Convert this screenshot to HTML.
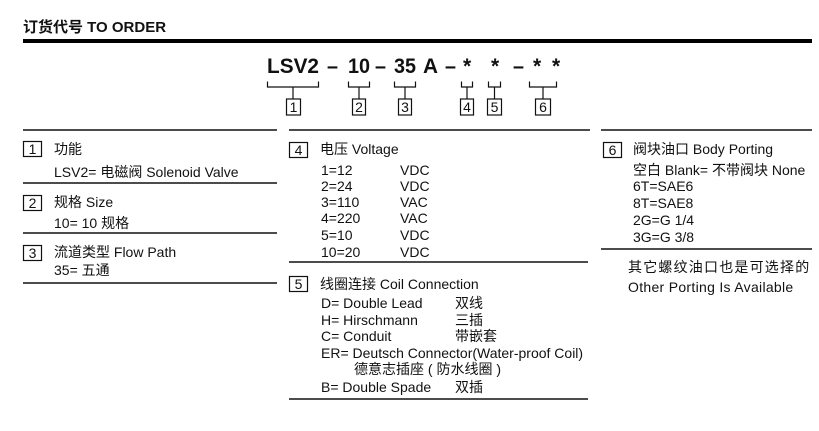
<!DOCTYPE html>
<html><head><meta charset="utf-8"><style>
html,body{margin:0;padding:0;background:#fff;}
svg{display:block;}
text{font-family:"Liberation Sans","Noto Sans CJK SC",sans-serif;fill:#111;font-size:14px;}
.b{font-weight:bold;}
.code{font-weight:bold;font-size:21px;}
.num{font-size:14px;}
</style></head><body>
<svg width="819" height="431" viewBox="0 0 819 431" xmlns="http://www.w3.org/2000/svg">
<!-- Title -->
<text x="23" y="32" class="b" style="font-size:15px">订货代号 TO ORDER</text>
<rect x="23" y="39" width="789" height="4" fill="#000"/>

<!-- Code line -->
<text x="267" y="73" class="code" textLength="52" lengthAdjust="spacingAndGlyphs">LSV2</text>
<text x="327" y="73" class="code" textLength="11" lengthAdjust="spacingAndGlyphs">–</text>
<text x="348" y="73" class="code" textLength="22" lengthAdjust="spacingAndGlyphs">10</text>
<text x="375" y="73" class="code" textLength="11" lengthAdjust="spacingAndGlyphs">–</text>
<text x="394" y="73" class="code" textLength="22" lengthAdjust="spacingAndGlyphs">35</text>
<text x="423" y="73" class="code" textLength="15" lengthAdjust="spacingAndGlyphs">A</text>
<text x="445" y="73" class="code" textLength="11" lengthAdjust="spacingAndGlyphs">–</text>
<text x="463" y="73" class="code">*</text>
<text x="491" y="73" class="code">*</text>
<text x="513" y="73" class="code" textLength="11" lengthAdjust="spacingAndGlyphs">–</text>
<text x="533" y="73" class="code">*</text>
<text x="552" y="73" class="code">*</text>

<!-- Brackets -->
<g stroke="#111" stroke-width="1.2" fill="none">
  <path d="M267.5 81.5 V87 H318.5 V81.5 M293 87 V99"/>
  <path d="M348.5 81.5 V87 H369.5 V81.5 M359 87 V99"/>
  <path d="M394.5 81.5 V87 H415.5 V81.5 M405 87 V99"/>
  <path d="M461.5 81.5 V87 H472.5 V81.5 M467 87 V99"/>
  <path d="M488.5 81.5 V87 H500.5 V81.5 M494.5 87 V99"/>
  <path d="M529.5 81.5 V87 H556.5 V81.5 M543 87 V99"/>
  <rect x="286.5" y="99" width="14" height="16"/>
  <rect x="352.5" y="99" width="13" height="16"/>
  <rect x="398.5" y="99" width="13" height="16"/>
  <rect x="460.5" y="99" width="13" height="16"/>
  <rect x="487.5" y="99" width="14" height="16"/>
  <rect x="535.5" y="99" width="15" height="16"/>
</g>
<text x="293.5" y="112" class="num" text-anchor="middle">1</text>
<text x="359" y="112" class="num" text-anchor="middle">2</text>
<text x="405" y="112" class="num" text-anchor="middle">3</text>
<text x="467" y="112" class="num" text-anchor="middle">4</text>
<text x="494.5" y="112" class="num" text-anchor="middle">5</text>
<text x="543" y="112" class="num" text-anchor="middle">6</text>

<!-- Section lines -->
<g stroke="#111" stroke-width="1.5">
  <line x1="23" y1="130" x2="277" y2="130"/>
  <line x1="289" y1="130" x2="590" y2="130"/>
  <line x1="601" y1="130" x2="812" y2="130"/>
  <line x1="23" y1="183" x2="277" y2="183"/>
  <line x1="23" y1="233" x2="277" y2="233"/>
  <line x1="23" y1="283" x2="277" y2="283"/>
  <line x1="289" y1="262" x2="588" y2="262"/>
  <line x1="289" y1="399" x2="588" y2="399"/>
  <line x1="601" y1="249" x2="812" y2="249"/>
</g>

<!-- Section boxes -->
<g stroke="#111" stroke-width="1.2" fill="none">
  <rect x="23.5" y="141.5" width="18" height="15"/>
  <rect x="23.5" y="195.5" width="18" height="15"/>
  <rect x="23.5" y="245.5" width="18" height="15"/>
  <rect x="289.5" y="142.5" width="18" height="15"/>
  <rect x="289.5" y="276.5" width="18" height="15"/>
  <rect x="603.5" y="142.5" width="18" height="15"/>
</g>
<text x="32.5" y="154" text-anchor="middle">1</text>
<text x="32.5" y="208" text-anchor="middle">2</text>
<text x="32.5" y="258" text-anchor="middle">3</text>
<text x="298.5" y="155" text-anchor="middle">4</text>
<text x="298.5" y="289" text-anchor="middle">5</text>
<text x="612.5" y="155" text-anchor="middle">6</text>

<!-- Left column -->
<text x="54" y="154">功能</text>
<text x="54" y="177">LSV2= 电磁阀 Solenoid Valve</text>
<text x="54" y="207">规格 Size</text>
<text x="54" y="228">10= 10 规格</text>
<text x="54" y="257">流道类型 Flow Path</text>
<text x="54" y="275">35= 五通</text>

<!-- Middle column: Voltage -->
<text x="320" y="154">电压 Voltage</text>
<text x="321" y="175">1=12</text><text x="400" y="175">VDC</text>
<text x="321" y="191">2=24</text><text x="400" y="191">VDC</text>
<text x="321" y="207">3=110</text><text x="400" y="207">VAC</text>
<text x="321" y="223">4=220</text><text x="400" y="223">VAC</text>
<text x="321" y="240">5=10</text><text x="400" y="240">VDC</text>
<text x="321" y="257">10=20</text><text x="400" y="257">VDC</text>

<!-- Middle column: Coil -->
<text x="320" y="289">线圈连接 Coil Connection</text>
<text x="321" y="308">D= Double Lead</text><text x="455" y="308">双线</text>
<text x="321" y="325">H= Hirschmann</text><text x="455" y="325">三插</text>
<text x="321" y="341">C= Conduit</text><text x="455" y="341">带嵌套</text>
<text x="321" y="358">ER= Deutsch Connector(Water-proof Coil)</text>
<text x="354" y="374">德意志插座 ( 防水线圈 )</text>
<text x="321" y="392">B= Double Spade</text><text x="455" y="392">双插</text>

<!-- Right column -->
<text x="633" y="154">阀块油口 Body Porting</text>
<text x="633" y="175">空白 Blank= 不带阀块 None</text>
<text x="633" y="191">6T=SAE6</text>
<text x="633" y="208">8T=SAE8</text>
<text x="633" y="225">2G=G 1/4</text>
<text x="633" y="242">3G=G 3/8</text>
<text x="628" y="272" style="letter-spacing:1.2px">其它螺纹油口也是可选择的</text>
<text x="628" y="292" style="letter-spacing:0.3px">Other Porting Is Available</text>
</svg>
</body></html>
